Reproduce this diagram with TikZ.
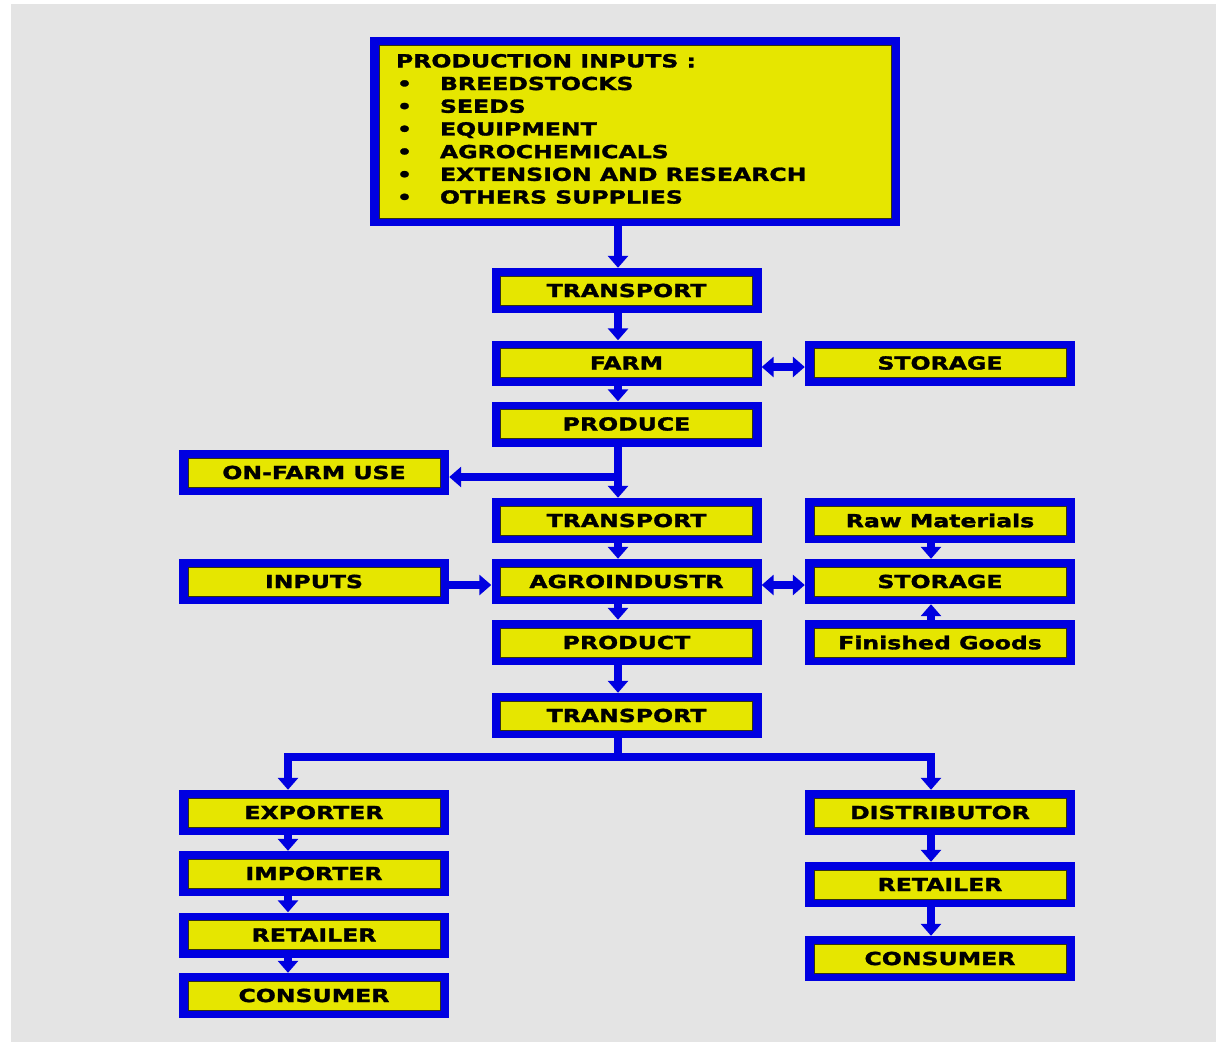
\documentclass[tikz,border=0pt]{standalone}
\usepackage{fontspec}
\usetikzlibrary{arrows.meta,calc}
\newfontfamily\boxfont{DejaVu Sans}[FakeStretch=1.31,FakeBold=1.6]
\definecolor{bgray}{RGB}{228,228,228}
\definecolor{bblue}{RGB}{0,0,225}
\definecolor{byellow}{RGB}{230,230,0}
\definecolor{bedge}{RGB}{50,50,20}
\begin{document}
\begin{tikzpicture}[x=1pt,y=-1pt,
  box/.style={fill=bblue, inner sep=0pt, minimum width=270pt, minimum height=45pt,
    font=\boxfont\bfseries\fontsize{18}{22.7}\selectfont, text=black,
    path picture={
      \fill[byellow, draw=bedge, line width=0.9pt]
        ([shift={(9pt,-8pt)}]path picture bounding box.north west) rectangle
        ([shift={(-9pt,8pt)}]path picture bounding box.south east);}},
  conn/.style={draw=bblue, line width=8pt},
  arr/.style={conn, -{Triangle[width=20pt,length=12pt]}},
  darr/.style={conn, {Triangle[width=20pt,length=12pt]}-{Triangle[width=20pt,length=12pt]}}
]
\useasboundingbox (0,0) rectangle (1216,1042);
\fill[white] (0,0) rectangle (1216,1042);
\fill[bgray] (11,4) rectangle (1216,1042);

% top box
\node[box, minimum width=530pt, minimum height=189pt] (top) at (635,131.5)
 {\parbox[c][189pt][t]{478pt}{\vspace*{17pt}PRODUCTION INPUTS :\\
  \makebox[44pt][l]{\hspace{1pt}•}BREEDSTOCKS\\
  \makebox[44pt][l]{\hspace{1pt}•}SEEDS\\
  \makebox[44pt][l]{\hspace{1pt}•}EQUIPMENT\\
  \makebox[44pt][l]{\hspace{1pt}•}AGROCHEMICALS\\
  \makebox[44pt][l]{\hspace{1pt}•}EXTENSION AND RESEARCH\\
  \makebox[44pt][l]{\hspace{1pt}•}OTHERS SUPPLIES}};

% centre column
\node[box] (t1) at (626.5,290.5) {TRANSPORT};
\node[box] (farm) at (626.5,363) {FARM};
\node[box] (produce) at (626.5,424) {PRODUCE};
\node[box] (t2) at (626.5,520.5) {TRANSPORT};
\node[box] (agro) at (626.5,581.5) {AGROINDUSTR};
\node[box] (product) at (626.5,642.5) {PRODUCT};
\node[box] (t3) at (626.5,715.5) {TRANSPORT};

% right column
\node[box] (st1) at (940,363) {STORAGE};
\node[box] (raw) at (940,520.5) {Raw Materials};
\node[box] (st2) at (940,581.5) {STORAGE};
\node[box] (fin) at (940,642.5) {Finished Goods};
\node[box] (dist) at (940,812.5) {DISTRIBUTOR};
\node[box] (retR) at (940,884.5) {RETAILER};
\node[box] (conR) at (940,958.5) {CONSUMER};

% left column
\node[box] (onfarm) at (314,472.5) {ON-FARM USE};
\node[box] (inputs) at (314,581.5) {INPUTS};
\node[box] (exp) at (314,812.5) {EXPORTER};
\node[box] (imp) at (314,873.5) {IMPORTER};
\node[box] (retL) at (314,935) {RETAILER};
\node[box] (conL) at (314,995.5) {CONSUMER};

% spines
\coordinate (sp) at (618,0);
\coordinate (lsp) at (288,0);
\coordinate (rsp) at (931,0);
\coordinate (br) at (618,477);
\coordinate (hy) at (0,585);
\coordinate (fy) at (0,367);
\coordinate (fork) at (618,757);

\draw[arr] (top.south -| sp) -- (t1.north -| sp);
\draw[arr] (t1.south -| sp) -- (farm.north -| sp);
\draw[arr] (farm.south -| sp) -- (produce.north -| sp);
\draw[darr] (farm.east |- fy) -- (st1.west |- fy);
\draw[arr] (produce.south -| sp) -- (t2.north -| sp);
\draw[arr] (br) -- (onfarm.east |- br);
\draw[arr] (t2.south -| sp) -- (agro.north -| sp);
\draw[arr] (raw.south -| rsp) -- (st2.north -| rsp);
\draw[arr] (fin.north -| rsp) -- (st2.south -| rsp);
\draw[arr] (inputs.east |- hy) -- (agro.west |- hy);
\draw[darr] (agro.east |- hy) -- (st2.west |- hy);
\draw[arr] (agro.south -| sp) -- (product.north -| sp);
\draw[arr] (product.south -| sp) -- (t3.north -| sp);
\draw[arr] (t3.south -| sp) -- (fork) -| (exp.north -| lsp);
\draw[arr] (fork) -| (dist.north -| rsp);
\draw[arr] (exp.south -| lsp) -- (imp.north -| lsp);
\draw[arr] (imp.south -| lsp) -- (retL.north -| lsp);
\draw[arr] (retL.south -| lsp) -- (conL.north -| lsp);
\draw[arr] (dist.south -| rsp) -- (retR.north -| rsp);
\draw[arr] (retR.south -| rsp) -- (conR.north -| rsp);
\end{tikzpicture}
\end{document}
